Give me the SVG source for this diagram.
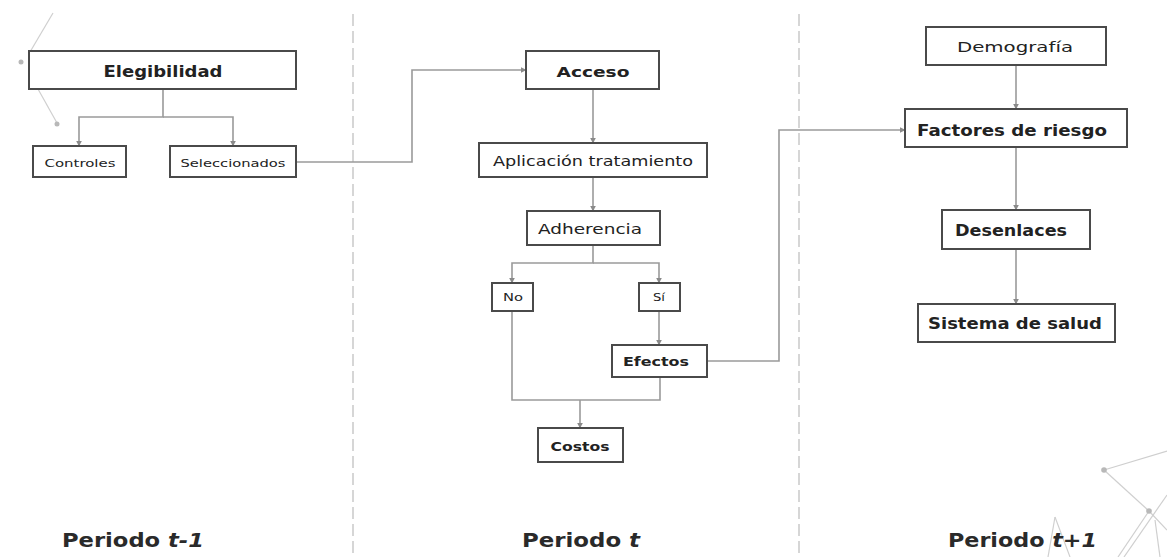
<svg xmlns="http://www.w3.org/2000/svg" width="1167" height="557" viewBox="0 0 1167 557">
  <style>
    .box { fill: #ffffff; stroke: #4a4a4a; stroke-width: 2; }
    .lbl { font-family: "DejaVu Sans", "Liberation Sans", sans-serif; fill: #222222; text-anchor: middle; dominant-baseline: central; }
    .b { font-weight: bold; }
    .conn { fill: none; stroke: #9a9a9a; stroke-width: 1.6; }
    .divider { stroke: #d6d6d6; stroke-width: 2; stroke-dasharray: 12 5; }
    .deco { stroke: #cfcfcf; stroke-width: 1.2; fill: none; }
    .dot { fill: #b8b8b8; }
    .period { font-family: "DejaVu Sans", "Liberation Sans", sans-serif; font-size: 20px; fill: #2a2a2a; font-weight: bold; }
  </style>
  <defs>
    <marker id="arrow" viewBox="0 0 10 10" refX="9" refY="5" markerWidth="6" markerHeight="6" orient="auto" markerUnits="userSpaceOnUse">
      <path d="M0,0 L10,5 L0,10 z" fill="#8a8a8a"/>
    </marker>
  </defs>
  <rect width="1167" height="557" fill="#ffffff"/>

  <!-- period dividers -->
  <g id="dividers">
    <line class="divider" x1="353" y1="14" x2="353" y2="557"/>
    <line class="divider" x1="799" y1="14" x2="799" y2="557"/>
  </g>

  <!-- background network ornaments -->
  <g id="ornaments">
    <line class="deco" x1="53" y1="13" x2="30" y2="52"/>
    <line class="deco" x1="38" y1="89" x2="57" y2="123"/>
    <circle class="dot" cx="21" cy="62" r="2.5"/>
    <circle class="dot" cx="57" cy="124" r="2.5"/>
    <line class="deco" x1="1104" y1="470" x2="1167" y2="451"/>
    <line class="deco" x1="1104" y1="470" x2="1149" y2="511"/>
    <line class="deco" x1="1149" y1="511" x2="1167" y2="530"/>
    <line class="deco" x1="1149" y1="511" x2="1118" y2="557"/>
    <line class="deco" x1="1167" y1="495" x2="1124" y2="557"/>
    <line class="deco" x1="1155" y1="520" x2="1160" y2="557"/>
    <line class="deco" x1="1055" y1="517" x2="1048" y2="557"/>
    <line class="deco" x1="1055" y1="517" x2="1070" y2="557"/>
    <circle class="dot" cx="1104" cy="470" r="2.8"/>
    <circle class="dot" cx="1149" cy="511" r="2.8"/>
  </g>

  <!-- connectors -->
  <g id="connectors">
    <path class="conn" d="M163,89 V117 H79 V146" marker-end="url(#arrow)"/>
    <path class="conn" d="M163,117 H233 V146" marker-end="url(#arrow)"/>
    <path class="conn" d="M296,162 H412 V70 H526" marker-end="url(#arrow)"/>
    <path class="conn" d="M593,89 V143" marker-end="url(#arrow)"/>
    <path class="conn" d="M593,177 V211" marker-end="url(#arrow)"/>
    <path class="conn" d="M593,245 V263 H512 V283" marker-end="url(#arrow)"/>
    <path class="conn" d="M593,263 H659 V283" marker-end="url(#arrow)"/>
    <path class="conn" d="M659,311 V345" marker-end="url(#arrow)"/>
    <path class="conn" d="M512,311 V400 H660 V377"/>
    <path class="conn" d="M580,400 V428" marker-end="url(#arrow)"/>
    <path class="conn" d="M707,361 H779 V130 H905" marker-end="url(#arrow)"/>
    <path class="conn" d="M1016,65 V109" marker-end="url(#arrow)"/>
    <path class="conn" d="M1016,147 V210" marker-end="url(#arrow)"/>
    <path class="conn" d="M1016,249 V304" marker-end="url(#arrow)"/>
  </g>

  <!-- period t-1 -->
  <g id="elegibilidad">
    <rect class="box" x="29" y="51" width="267" height="38"/>
    <text class="lbl b" x="163" y="72" font-size="15" textLength="119" lengthAdjust="spacingAndGlyphs">Elegibilidad</text>
  </g>
  <g id="controles">
    <rect class="box" x="33" y="146" width="93" height="31"/>
    <text class="lbl" x="80" y="163" font-size="11" textLength="71" lengthAdjust="spacingAndGlyphs">Controles</text>
  </g>
  <g id="seleccionados">
    <rect class="box" x="170" y="146" width="126" height="31"/>
    <text class="lbl" x="233" y="163" font-size="11" textLength="105" lengthAdjust="spacingAndGlyphs">Seleccionados</text>
  </g>

  <!-- period t -->
  <g id="acceso">
    <rect class="box" x="526" y="51" width="133" height="38"/>
    <text class="lbl b" x="593" y="72" font-size="14" textLength="73" lengthAdjust="spacingAndGlyphs">Acceso</text>
  </g>
  <g id="aplicacion">
    <rect class="box" x="479" y="143" width="228" height="34"/>
    <text class="lbl" x="593" y="161" font-size="14" textLength="200" lengthAdjust="spacingAndGlyphs">Aplicación tratamiento</text>
  </g>
  <g id="adherencia">
    <rect class="box" x="527" y="211" width="133" height="34"/>
    <text class="lbl" x="590" y="229" font-size="14" textLength="104" lengthAdjust="spacingAndGlyphs">Adherencia</text>
  </g>
  <g id="no">
    <rect class="box" x="492" y="283" width="41" height="28"/>
    <text class="lbl" x="513" y="297" font-size="10" textLength="20" lengthAdjust="spacingAndGlyphs">No</text>
  </g>
  <g id="si">
    <rect class="box" x="639" y="283" width="41" height="28"/>
    <text class="lbl" x="659" y="297" font-size="10" textLength="12" lengthAdjust="spacingAndGlyphs">Sí</text>
  </g>
  <g id="efectos">
    <rect class="box" x="612" y="345" width="95" height="32"/>
    <text class="lbl b" x="656" y="361" font-size="13" textLength="66" lengthAdjust="spacingAndGlyphs">Efectos</text>
  </g>
  <g id="costos">
    <rect class="box" x="538" y="428" width="85" height="34"/>
    <text class="lbl b" x="580" y="446" font-size="13" textLength="59" lengthAdjust="spacingAndGlyphs">Costos</text>
  </g>

  <!-- period t+1 -->
  <g id="demografia">
    <rect class="box" x="926" y="27" width="180" height="38"/>
    <text class="lbl" x="1015" y="47" font-size="14" textLength="116" lengthAdjust="spacingAndGlyphs">Demografía</text>
  </g>
  <g id="factores">
    <rect class="box" x="905" y="109" width="222" height="38"/>
    <text class="lbl b" x="1012" y="130" font-size="16" textLength="190" lengthAdjust="spacingAndGlyphs">Factores de riesgo</text>
  </g>
  <g id="desenlaces">
    <rect class="box" x="942" y="210" width="148" height="39"/>
    <text class="lbl b" x="1011" y="231" font-size="15" textLength="112" lengthAdjust="spacingAndGlyphs">Desenlaces</text>
  </g>
  <g id="sistema">
    <rect class="box" x="918" y="304" width="197" height="38"/>
    <text class="lbl b" x="1015" y="324" font-size="15" textLength="174" lengthAdjust="spacingAndGlyphs">Sistema de salud</text>
  </g>

  <!-- period captions -->
  <g id="captions">
    <text class="period" x="62" y="547" textLength="142" lengthAdjust="spacingAndGlyphs">Periodo <tspan font-style="italic">t-1</tspan></text>
    <text class="period" x="522" y="547" textLength="118" lengthAdjust="spacingAndGlyphs">Periodo <tspan font-style="italic">t</tspan></text>
    <text class="period" x="948" y="547" textLength="149" lengthAdjust="spacingAndGlyphs">Periodo <tspan font-style="italic">t+1</tspan></text>
  </g>
</svg>
